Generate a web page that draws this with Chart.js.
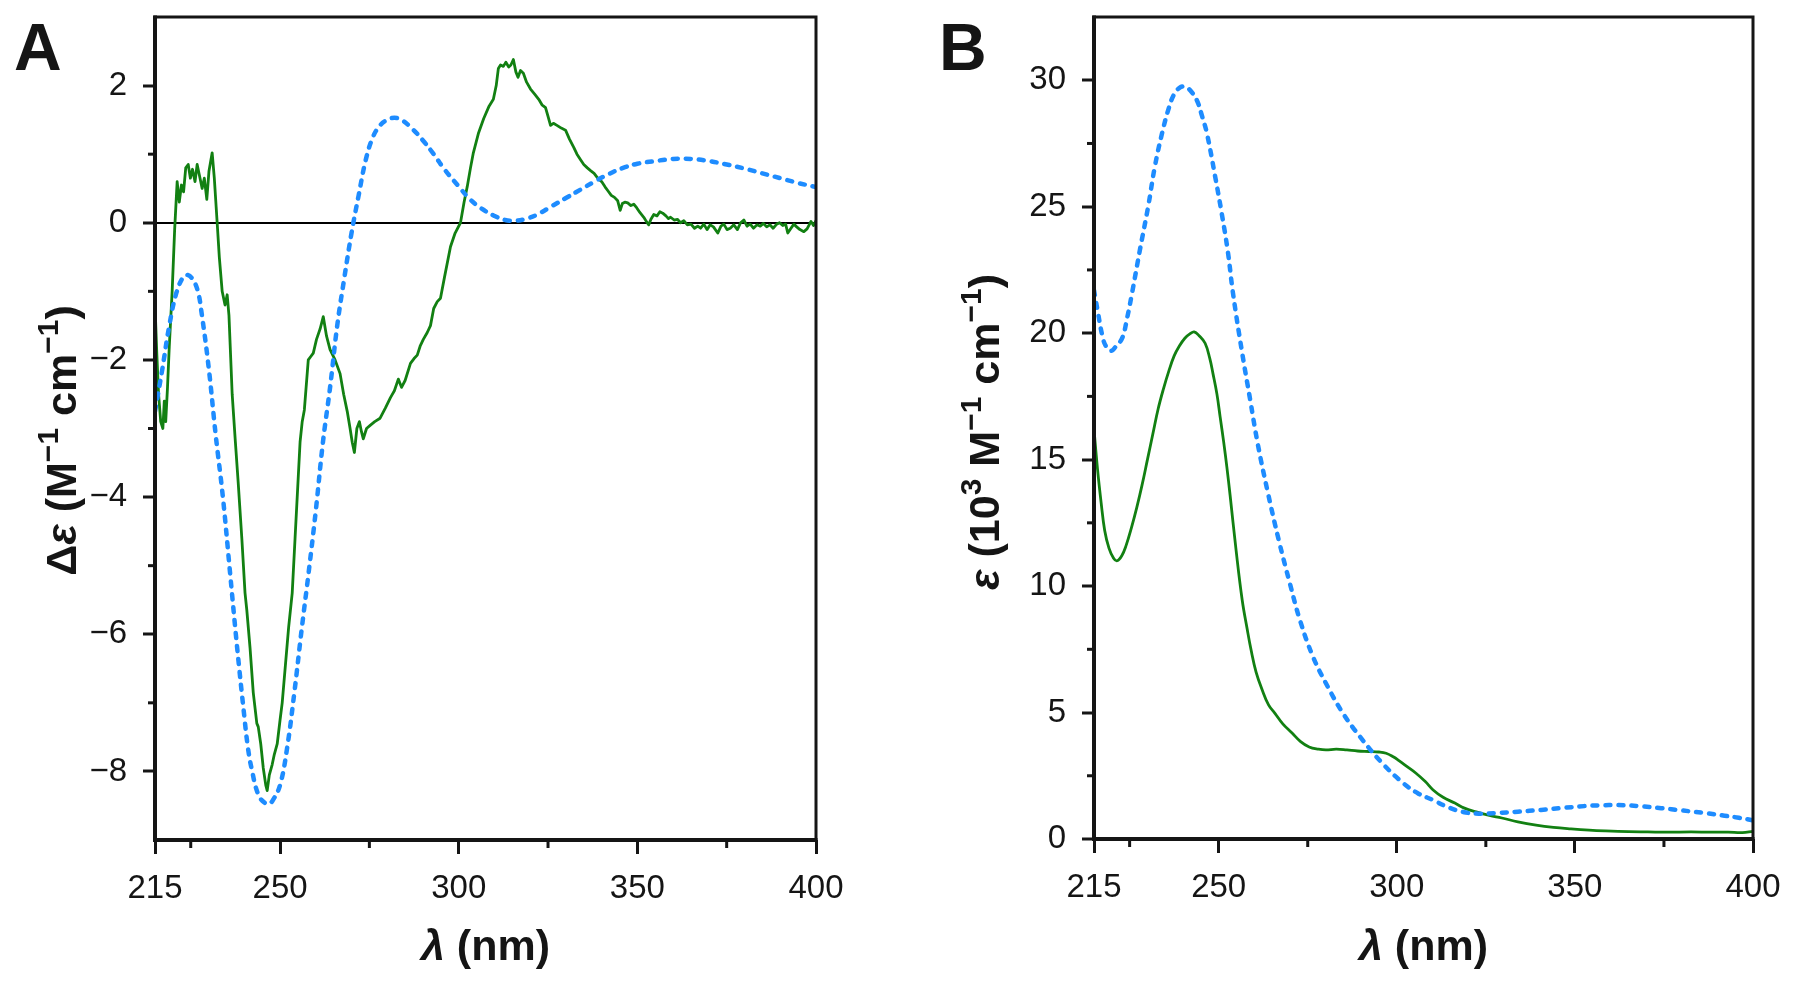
<!DOCTYPE html>
<html><head><meta charset="utf-8">
<script src="https://cdn.jsdelivr.net/npm/chart.js@4.4.1/dist/chart.umd.min.js"></script>
<style>
html,body{margin:0;padding:0;background:#fff;}
#wrap{position:relative;width:1800px;height:982px;overflow:hidden;background:#fff;}
.pane{position:absolute;top:0;width:900px;height:982px;}
</style></head><body>
<div id="wrap">
<div class="pane" style="left:0"><canvas id="chartA" width="900" height="982"></canvas></div>
<div class="pane" style="left:900px"><canvas id="chartB" width="900" height="982"></canvas></div>
</div>
<script>
// ---------- Panel A: CD spectra ----------
const expCdWl = [
215.0,215.5,216.0,216.6,217.2,217.6,218.0,218.5,219.0,219.8,
220.5,221.2,221.8,222.4,223.0,223.6,224.3,224.9,225.5,226.2,
226.8,227.4,228.2,228.8,229.5,230.1,231.0,231.6,232.4,233.0,
233.8,234.6,235.2,235.7,236.6,237.5,238.3,239.3,240.2,240.7,
241.6,242.5,243.5,243.9,244.6,245.3,246.0,246.4,247.0,247.8,
248.4,249.2,250.0,250.6,251.5,252.4,253.4,254.2,254.8,255.6,
256.2,256.8,257.9,258.6,259.3,260.2,261.2,262.1,263.0,264.0,
265.4,266.8,267.8,268.8,269.6,270.2,270.8,271.5,272.2,272.8,
273.3,274.2,275.3,276.5,278.0,279.5,280.9,282.0,283.1,284.0,
285.0,286.5,287.5,288.4,289.2,290.1,291.2,292.1,293.0,294.0,
294.9,296.0,297.7,299.0,300.5,301.5,302.4,303.3,304.1,305.5,
307.0,308.5,309.7,310.5,311.1,311.7,312.5,313.2,314.0,314.6,
315.3,316.0,316.6,317.3,318.1,319.0,320.1,321.2,322.4,323.3,
324.3,325.0,325.7,326.5,327.5,328.7,329.9,331.0,332.2,333.1,
334.1,335.0,336.0,336.9,337.9,338.9,340.0,341.0,341.7,342.7,
343.6,344.5,345.2,345.8,346.5,347.3,348.2,349.0,349.8,350.7,
351.8,352.5,353.2,353.8,354.6,355.5,356.3,357.1,358.0,358.7,
359.3,360.3,361.2,362.1,363.0,364.0,365.0,366.0,366.9,367.7,
368.6,369.5,370.4,371.3,372.5,373.4,374.2,375.1,376.0,377.0,
378.0,378.9,379.8,380.7,381.6,382.5,383.5,384.4,385.3,386.2,
387.1,388.0,389.0,389.8,390.7,391.5,392.1,393.0,393.8,394.6,
395.5,396.6,397.5,398.6,399.3,400.0];
const expCdVal = [
-1.2,-1.9,-2.5,-2.9,-3.0,-2.6,-2.9,-2.4,-1.8,-1.0,
-0.1,0.6,0.3,0.55,0.45,0.8,0.85,0.65,0.78,0.6,
0.85,0.7,0.5,0.65,0.34,0.75,1.02,0.65,0.0,-0.5,
-1.0,-1.2,-1.05,-1.35,-2.5,-3.2,-3.8,-4.6,-5.4,-5.65,
-6.2,-6.85,-7.3,-7.35,-7.6,-7.95,-8.2,-8.28,-8.05,-7.9,
-7.75,-7.6,-7.25,-7.0,-6.45,-5.9,-5.4,-4.6,-4.0,-3.2,
-2.9,-2.73,-2.0,-1.95,-1.9,-1.7,-1.55,-1.37,-1.65,-1.85,
-2.0,-2.2,-2.5,-2.75,-3.0,-3.2,-3.35,-3.0,-2.9,-3.05,
-3.15,-3.0,-2.95,-2.9,-2.85,-2.7,-2.55,-2.45,-2.28,-2.4,
-2.3,-2.05,-1.98,-1.93,-1.8,-1.7,-1.6,-1.5,-1.25,-1.15,
-1.1,-0.8,-0.35,-0.15,0.0,0.3,0.53,0.8,1.02,1.3,
1.52,1.7,1.8,2.0,2.25,2.3,2.28,2.34,2.27,2.3,
2.38,2.2,2.12,2.22,2.18,2.05,1.95,1.88,1.8,1.72,
1.68,1.55,1.42,1.45,1.42,1.38,1.35,1.22,1.1,1.0,
0.92,0.85,0.8,0.76,0.72,0.65,0.6,0.52,0.47,0.4,
0.37,0.32,0.18,0.28,0.3,0.29,0.25,0.27,0.22,0.15,
0.08,0.02,-0.03,0.05,0.12,0.1,0.16,0.14,0.1,0.06,
0.08,0.04,0.05,0.0,0.03,-0.03,-0.02,-0.08,-0.05,-0.08,
-0.02,-0.1,-0.03,-0.06,-0.15,-0.05,-0.02,-0.1,-0.08,-0.03,
-0.1,0.0,0.04,-0.05,-0.02,-0.08,-0.03,-0.05,-0.01,-0.06,
-0.03,-0.08,-0.02,0.0,-0.04,-0.02,-0.15,-0.08,-0.02,-0.06,
-0.1,-0.13,-0.09,0.02,-0.04,0.03];

const calcCdWl = [215,217,219,221,223,224,225.5,227,228,230,
232,234,236,238,240,241,242,244,246,247,
248,250,252,254,256,258,260,262,264,266,
268,270,272,274,276,278,280,282,284,287,
290,293,296,300,303,306,310,313,316,319,
322,326,330,334,338,342,346,350,355,360,
365,370,375,380,385,390,395,400];
const calcCdVal = [-2.75,-2.15,-1.5,-1.02,-0.78,-0.76,-0.82,-1.0,-1.3,-2.1,
-3.1,-4.0,-5.1,-6.2,-7.2,-7.65,-7.95,-8.35,-8.47,-8.47,
-8.42,-8.2,-7.65,-6.85,-5.95,-5.1,-4.2,-3.2,-2.4,-1.5,
-0.8,-0.15,0.4,0.92,1.25,1.42,1.5,1.53,1.5,1.37,
1.2,1.0,0.78,0.53,0.35,0.22,0.1,0.04,0.03,0.06,
0.12,0.24,0.36,0.48,0.6,0.71,0.8,0.86,0.9,0.93,
0.93,0.9,0.85,0.79,0.72,0.65,0.58,0.52];

// ---------- Panel B: UV spectra ----------
const expUvWl = [215,216,217,218,219.2,220.5,221.5,222.8,224,225.5,
227,228.5,230,231.5,233,234.5,236,237.5,239,240.5,
242,243.1,244.5,246.2,247.5,248.4,249.5,250.4,251.4,252.3,
253.2,254.9,256.6,258,259.1,260.5,262.2,264,265.8,268,
270.6,273,275.4,278,280.1,283,286,289,292.2,295,
297,299,300.6,303,305.4,308,310.2,313,316.3,319,
322.3,326,329.5,334,339.1,344,348.9,354,358.5,365,
370.5,376,382.6,388,393,397,400];
const expUvVal = [16.2,14.6,13.3,12.2,11.5,11.1,11.0,11.2,11.6,12.3,
13.1,14.0,15.0,16.0,17.0,17.8,18.5,19.1,19.5,19.8,
19.98,20.05,19.9,19.6,19.0,18.4,17.6,16.7,15.7,14.7,
13.6,11.4,9.45,8.3,7.47,6.6,5.9,5.3,4.97,4.55,
4.19,3.85,3.64,3.55,3.52,3.55,3.52,3.48,3.46,3.44,
3.39,3.25,3.1,2.85,2.6,2.27,1.94,1.65,1.42,1.22,
1.07,0.93,0.83,0.68,0.55,0.46,0.40,0.35,0.32,0.29,
0.28,0.27,0.28,0.27,0.27,0.25,0.3];

const calcUvWl = [215,216,217.5,218.5,219.8,221,222.9,224.3,225.7,227.9,
230.2,232.1,234.1,236,237.5,239,240.5,242,243.9,245.3,
246.7,249,250.9,252.6,254,256.5,258.8,261,263.8,266.9,
270,272.8,276.5,280.7,284.9,289.7,295.9,301.8,306,310.2,
314,318.6,323,328.4,334,340.5,346,352.6,357,362.1,
368,374.2,380,386.3,392,396,400];
const calcUvVal = [21.7,20.9,19.8,19.45,19.3,19.45,19.8,20.6,21.6,23.3,
25.0,26.6,27.9,28.9,29.45,29.7,29.75,29.6,29.2,28.6,
27.9,26.2,24.7,23.2,21.6,19.3,17.4,15.6,13.7,11.8,
10.1,8.66,7.2,6.0,4.97,4.04,3.0,2.21,1.8,1.54,
1.28,1.07,1.0,1.03,1.08,1.15,1.22,1.30,1.33,1.34,
1.3,1.22,1.13,1.03,0.92,0.84,0.74];

// ---------- Ticks & labels ----------
const xMajorTicks = [215, 250, 300, 350, 400];
const xMinorTicks = [225, 275, 325, 375];
const cdMajorYTicks = [-8, -6, -4, -2, 0, 2];
const cdMinorYTicks = [-7, -5, -3, -1, 1];
const uvMajorYTicks = [0, 5, 10, 15, 20, 25, 30];
const uvMinorYTicks = [2.5, 7.5, 12.5, 17.5, 22.5, 27.5];
// axis titles as rich-text pieces (i = italic, s = superscript)
const xTitleParts = [{t: 'λ', i: true}, {t: ' (nm)'}];
const cdYTitleParts = [{t: 'Δ'}, {t: 'ε', i: true}, {t: ' (M'}, {t: '\u22121', s: true}, {t: ' cm'}, {t: '\u22121', s: true}, {t: ')'}];
const uvYTitleParts = [{t: 'ε', i: true}, {t: ' (10'}, {t: '3', s: true}, {t: ' M'}, {t: '\u22121', s: true}, {t: ' cm'}, {t: '\u22121', s: true}, {t: ')'}];
const panelLetters = ['A', 'B'];

const FONT = '"Liberation Sans", Arial, Helvetica, sans-serif';
const GREEN = '#128012';
const BLUE = '#1e8cff';
const INK = '#151515';
const TITLE_SIZE = 43;

function pts(xs, ys) { return xs.map((x, i) => ({x: x, y: ys[i]})); }

function partFont(p, size) {
  const sz = p.s ? Math.round(size * 0.7) : size;
  return (p.i ? 'italic ' : '') + 'bold ' + sz + 'px ' + FONT;
}
function drawRich(ctx, parts, cx, cy, rot, size) {
  ctx.save();
  ctx.translate(cx, cy);
  ctx.rotate(rot);
  ctx.textBaseline = 'alphabetic';
  ctx.textAlign = 'left';
  let w = 0;
  parts.forEach(p => { ctx.font = partFont(p, size); w += ctx.measureText(p.t).width; });
  let x = -w / 2;
  const base = size * 0.36;
  parts.forEach(p => {
    ctx.font = partFont(p, size);
    ctx.fillText(p.t, x, p.s ? base - size * 0.42 : base);
    x += ctx.measureText(p.t).width;
  });
  ctx.restore();
}

const framePlugin = {
  id: 'frame',
  afterDraw(chart, args, o) {
    const {ctx, chartArea: a} = chart;
    const xs = chart.scales.x, ys = chart.scales.y;
    ctx.save();
    ctx.strokeStyle = INK;
    ctx.lineWidth = 3;
    ctx.strokeRect(a.left, a.top, a.right - a.left, a.bottom - a.top);
    ctx.lineWidth = 4;
    ctx.beginPath();
    ctx.moveTo(a.left, a.top - 1.5);
    ctx.lineTo(a.left, a.bottom);
    ctx.lineTo(a.right + 1.5, a.bottom);
    ctx.stroke();
    ctx.lineWidth = 3;
    o.minorX.forEach(v => {
      const px = xs.getPixelForValue(v);
      ctx.beginPath(); ctx.moveTo(px, a.bottom); ctx.lineTo(px, a.bottom + 8); ctx.stroke();
    });
    o.minorY.forEach(v => {
      const py = ys.getPixelForValue(v);
      ctx.beginPath(); ctx.moveTo(a.left, py); ctx.lineTo(a.left - 7, py); ctx.stroke();
    });
    ctx.fillStyle = INK;
    // axis titles
    drawRich(ctx, o.xTitle, (a.left + a.right) / 2, 945, 0, TITLE_SIZE);
    drawRich(ctx, o.yTitle, o.yTitleX, (a.top + a.bottom) / 2 + o.yTitleShift, -Math.PI / 2, TITLE_SIZE);
    // panel letter
    ctx.font = 'bold 66px ' + FONT;
    ctx.textBaseline = 'alphabetic';
    ctx.textAlign = 'left';
    ctx.fillText(o.letter, o.letterX, o.letterY);
    ctx.restore();
  }
};

function fmt(v) { return v < 0 ? '\u2212' + Math.abs(v) : String(v); }

function makeChart(id, cfg) {
  return new Chart(document.getElementById(id), {
    type: 'line',
    data: {
      datasets: [
        { data: pts(cfg.calcWl, cfg.calcVal), borderColor: BLUE, borderWidth: 4.5,
          borderDash: [5, 8], borderCapStyle: 'round', pointRadius: 0, tension: 0.4, fill: false },
        { data: pts(cfg.expWl, cfg.expVal), borderColor: GREEN, borderWidth: 2.8,
          pointRadius: 0, tension: cfg.expTension, fill: false, borderJoinStyle: 'round' }
      ]
    },
    options: {
      responsive: false,
      animation: false,
      devicePixelRatio: 1,
      layout: { padding: { left: cfg.padLeft, right: cfg.padRight, top: 17, bottom: 10 } },
      plugins: {
        legend: { display: false },
        tooltip: { enabled: false },
        frame: { minorX: xMinorTicks, minorY: cfg.minorY, letter: cfg.letter, letterX: cfg.letterX, letterY: 70,
                 xTitle: xTitleParts, yTitle: cfg.yTitle, yTitleX: cfg.yTitleX, yTitleShift: cfg.yTitleShift }
      },
      scales: {
        x: {
          type: 'linear', min: 215, max: 400,
          afterBuildTicks: s => { s.ticks = xMajorTicks.map(v => ({value: v})); },
          afterFit: s => { s.height = cfg.xHeight; s.paddingLeft = 0; s.paddingRight = 0; },
          border: { display: false },
          grid: { drawOnChartArea: false, tickLength: 14, tickWidth: 3, tickColor: INK, color: INK },
          ticks: { color: INK, padding: 15, maxRotation: 0, autoSkip: false,
                   font: { family: FONT, size: 33 }, callback: v => String(v) },
          title: { display: false }
        },
        y: {
          type: 'linear', min: cfg.yMin, max: cfg.yMax,
          afterBuildTicks: s => { s.ticks = cfg.majorY.map(v => ({value: v})); },
          afterFit: s => { s.width = cfg.yWidth; s.paddingTop = 0; s.paddingBottom = 0; },
          border: { display: false },
          grid: {
            drawOnChartArea: true,
            color: c => (cfg.zeroLine && c.tick && c.tick.value === 0) ? '#000' : 'rgba(0,0,0,0)',
            lineWidth: c => (cfg.zeroLine && c.tick && c.tick.value === 0) ? 2 : 0,
            tickColor: INK, tickWidth: 3, tickLength: 12
          },
          ticks: { color: INK, padding: 16, autoSkip: false,
                   font: { family: FONT, size: 33 }, callback: v => fmt(v) },
          title: { display: false }
        }
      }
    },
    plugins: [framePlugin]
  });
}

makeChart('chartA', {
  calcWl: calcCdWl, calcVal: calcCdVal, expWl: expCdWl, expVal: expCdVal, expTension: 0,
  padLeft: 36, yWidth: 119, padRight: 84, xHeight: 132,
  yMin: -9, yMax: 3, majorY: cdMajorYTicks, minorY: cdMinorYTicks,
  yTitle: cdYTitleParts, yTitleX: 61, yTitleShift: 12, zeroLine: true, letter: panelLetters[0], letterX: 14
});
makeChart('chartB', {
  calcWl: calcUvWl, calcVal: calcUvVal, expWl: expUvWl, expVal: expUvVal, expTension: 0.4,
  padLeft: 60, yWidth: 134, padRight: 47, xHeight: 133,
  yMin: 0, yMax: 32.5, majorY: uvMajorYTicks, minorY: uvMinorYTicks,
  yTitle: uvYTitleParts, yTitleX: 84, yTitleShift: 4, zeroLine: false, letter: panelLetters[1], letterX: 39
});
</script>
</body></html>
